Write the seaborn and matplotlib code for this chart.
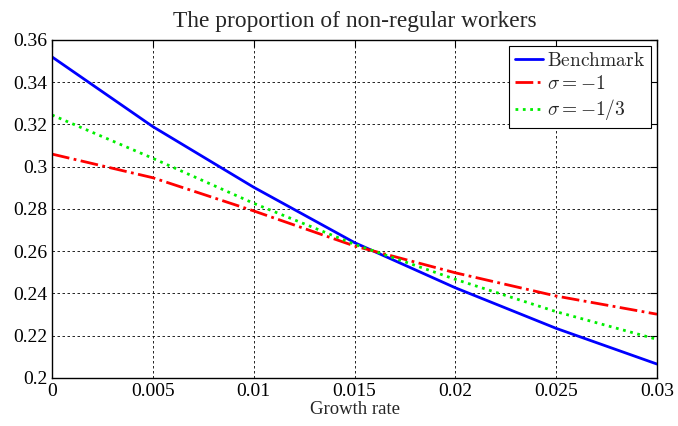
import matplotlib
matplotlib.use("Agg")
import matplotlib.pyplot as plt
import seaborn as sns
import pandas as pd

growth = [0.0, 0.005, 0.01, 0.015, 0.02, 0.025, 0.03]
benchmark = [0.352, 0.319, 0.2903, 0.2641, 0.2427, 0.2235, 0.2066]
sigma_m1 = [0.306, 0.2948, 0.2791, 0.2625, 0.2498, 0.2388, 0.2302]
sigma_m13 = [0.3245, 0.304, 0.2827, 0.2633, 0.2467, 0.2314, 0.2183]
series_names = [r"$\mathrm{Benchmark}$", r"$\sigma = -1$", r"$\sigma = -1/3$"]
xticks = [0, 0.005, 0.01, 0.015, 0.02, 0.025, 0.03]
xticklabels = ["0", "0.005", "0.01", "0.015", "0.02", "0.025", "0.03"]
yticks = [0.2, 0.22, 0.24, 0.26, 0.28, 0.3, 0.32, 0.34, 0.36]
yticklabels = ["0.2", "0.22", "0.24", "0.26", "0.28", "0.3", "0.32", "0.34", "0.36"]

sns.set_style("white")
plt.rcParams["font.family"] = ["Liberation Serif", "DejaVu Serif"]
plt.rcParams["mathtext.fontset"] = "cm"

fig = plt.figure(figsize=(6.78, 4.26), dpi=100)
ax = fig.add_axes([52/678, 1-378/426, (657-52)/678, (378-40)/426])

styles = [("#0000ff", "-"), ("#ff0000", "-."), ("#00ee00", ":")]
for vals, name, (c, ls) in zip([benchmark, sigma_m1, sigma_m13], series_names, styles):
    df = pd.DataFrame({"x": growth, "y": vals})
    sns.lineplot(data=df, x="x", y="y", ax=ax, color=c, linestyle=ls, linewidth=2.0, label=name)

ax.set_xlim(0, 0.03)
ax.set_ylim(0.2, 0.36)
ax.set_xticks(xticks)
ax.set_xticklabels(xticklabels)
ax.set_yticks(yticks)
ax.set_yticklabels(yticklabels)
ax.tick_params(direction="in", length=5, width=0.8, labelsize=14, top=True, right=True, colors="black")
ax.grid(True, color="black", linestyle=(0, (3, 3)), linewidth=0.6)
for s in ax.spines.values():
    s.set_color("black")
    s.set_linewidth(1.0)
ax.set_xlabel("Growth rate", fontsize=13.5, labelpad=1)
ax.set_ylabel("")
ax.set_title("The proportion of non-regular workers", fontsize=16.8, pad=9)

leg = ax.legend(loc="upper right", fontsize=14, frameon=True, fancybox=False,
                edgecolor="black", framealpha=1, borderaxespad=0.3,
                handlelength=1.45, handletextpad=0.2, borderpad=0.3, labelspacing=0.25)
leg.get_frame().set_linewidth(0.8)

fig.savefig("out.png", dpi=100)
